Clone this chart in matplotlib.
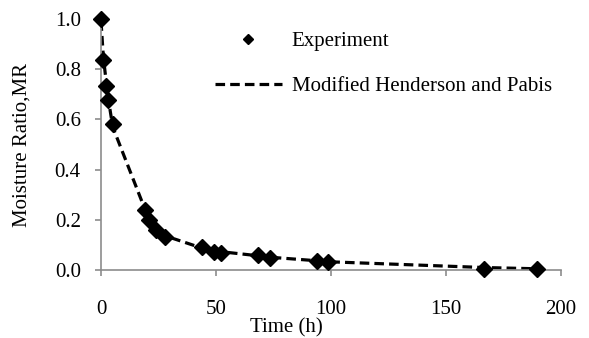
import matplotlib.pyplot as plt

# Drying data: time (h) and moisture ratio
time_h = [0, 1, 2.3, 3.2, 5.1, 19, 20.9, 24.1, 27.9, 44, 49.2, 52.1, 68.1, 73.5, 93.8, 98.9, 166.6, 189.7]
mr_exp = [1.0, 0.837, 0.731, 0.676, 0.58, 0.238, 0.2, 0.162, 0.133, 0.094, 0.074, 0.07, 0.059, 0.05, 0.037, 0.033, 0.007, 0.007]
mr_model = [0.99, 0.85, 0.745, 0.68, 0.57, 0.245, 0.205, 0.165, 0.137, 0.088, 0.078, 0.074, 0.058, 0.052, 0.038, 0.034, 0.011, 0.006]

xticks = [0, 50, 100, 150, 200]
yticks = [0.0, 0.2, 0.4, 0.6, 0.8, 1.0]

plt.rcParams['font.family'] = 'Liberation Serif'
plt.rcParams['font.size'] = 15

fig = plt.figure(figsize=(5.89, 3.38), dpi=100)
ax = fig.add_axes([0.1715, 0.2003, 0.7810, 0.7441])

ax.plot(time_h, mr_exp, linestyle='none', marker='D', markersize=7.8,
        color='black', label='Experiment', clip_on=False, zorder=3)
ax.plot(time_h, mr_model, linestyle='--', dashes=(3, 1.6), linewidth=2.3,
        color='black', label='Modified Henderson and Pabis', zorder=2)

ax.set_xlim(0, 200)
ax.set_ylim(0, 1.0)
ax.set_xticks(xticks)
ax.set_yticks(yticks)
ax.set_yticklabels(['%.1f' % v for v in yticks])

for side in ['top', 'right']:
    ax.spines[side].set_visible(False)
for side in ['left', 'bottom']:
    ax.spines[side].set_color('#8c8c8c')
    ax.spines[side].set_linewidth(1.2)
ax.tick_params(axis='both', direction='out', length=4.5, width=1.2, color='#8c8c8c')
ax.tick_params(axis='x', pad=17)
ax.tick_params(axis='y', pad=10)

ax.set_xlabel('Time (h)')
ax.xaxis.set_label_coords(0.404, -0.19)
ax.set_ylabel('Moisture Ratio,MR')
ax.yaxis.set_label_coords(-0.15, 0.5)

ax.legend(loc='upper left', bbox_to_anchor=(0.207, 1.025), frameon=False,
          handlelength=3.2, handletextpad=0.48, labelspacing=1.25, markerscale=0.7)

fig.savefig('out.png', dpi=100)
